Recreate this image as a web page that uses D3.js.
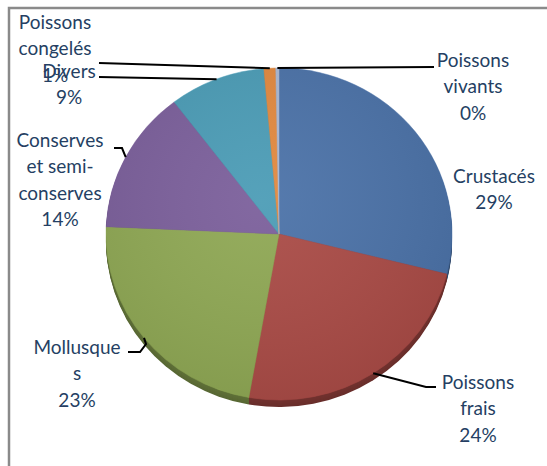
<!DOCTYPE html>
<html>
<head>
<meta charset="utf-8">
<script src="https://cdn.jsdelivr.net/npm/d3@7"></script>
<style>
  html, body { margin: 0; padding: 0; background: #ffffff; }
  svg { display: block; }
  text { font-family: Lato, "Open Sans", sans-serif; }
</style>
</head>
<body>
<script>
// Répartition des exportations par catégorie de produit
const categories = ["Crustacés", "Poissons frais", "Mollusques", "Conserves et semi-conserves", "Divers", "Poissons congelés", "Poissons vivants"];
const values = [29, 24, 23, 14, 9, 1.1, 0.3];
// Label text as broken over lines in the chart
const labelLines = [
  ["Crustacés"],
  ["Poissons", "frais"],
  ["Mollusque", "s"],
  ["Conserves", "et semi-", "conserves"],
  ["Divers"],
  ["Poissons", "congelés"],
  ["Poissons", "vivants"]
];
const colors = ["#4b72a8", "#aa4b46", "#8fa854", "#7b5f9b", "#4b9cb6", "#e2893f", "#a9b8d3"];

// Layout
const W = 547, H = 466;
const cx = 279, cy = 234, R = 173, ry = 166, depth = 7;
const lineH = 26.5, fontSize = 19;
// label anchor (centre x, first-line centre y) and leader path points beyond the slice edge
const labelLayout = [
  { x: 494, y: 176, leader: null },
  { x: 478, y: 382, leader: [[426, 387], [436, 387]] },
  { x: 77,  y: 347, leader: [[146, 344], [140, 352], [128, 352]] },
  { x: 60,  y: 140, leader: [[122, 148], [114, 148]] },
  { x: 69,  y: 71,  leader: [[99, 77]] },
  { x: 55,  y: 22,  leader: [[99, 63]] },
  { x: 473, y: 60,  leader: [[434, 67]] }
];

const svg = d3.select("body").append("svg")
  .attr("width", W).attr("height", H);

// chart frame (top and left edges are visible)
svg.append("path")
  .attr("d", `M9,${H} L9,8 L${W},8`)
  .attr("fill", "none")
  .attr("stroke", "#8a8a8a")
  .attr("stroke-width", 2.5);

const total = d3.sum(values);
const pie = d3.pie().sort(null).value(d => d)(values);
const arc = d3.arc().innerRadius(0).outerRadius(R);

// side of the tilted pie: stacked darker copies below the top face
for (let k = depth; k >= 1; k--) {
  svg.append("g")
    .attr("transform", `translate(${cx},${cy + k}) scale(1,${ry / R})`)
    .selectAll("path")
    .data(pie)
    .join("path")
    .attr("d", arc)
    .attr("fill", (d, i) => d3.color(colors[i]).darker(1.1 + 0.25 * (k / depth)));
}

// top face
const topFace = svg.append("g")
  .attr("transform", `translate(${cx},${cy}) scale(1,${ry / R})`);
topFace.selectAll("path")
  .data(pie)
  .join("path")
  .attr("d", arc)
  .attr("fill", (d, i) => colors[i])
  .attr("stroke", (d, i) => colors[i])
  .attr("stroke-width", 0.5);

// soft lighting over the top face
const defs = svg.append("defs");
const rg = defs.append("radialGradient").attr("id", "shine")
  .attr("cx", "45%").attr("cy", "40%").attr("r", "65%");
rg.append("stop").attr("offset", "0%").attr("stop-color", "#fff").attr("stop-opacity", 0.06);
rg.append("stop").attr("offset", "100%").attr("stop-color", "#000").attr("stop-opacity", 0.08);
svg.append("ellipse")
  .attr("cx", cx).attr("cy", cy).attr("rx", R).attr("ry", ry)
  .attr("fill", "url(#shine)");

function edgePoint(a) {
  return [cx + R * Math.sin(a), cy - ry * Math.cos(a)];
}

// leader lines
pie.forEach((d, i) => {
  const lay = labelLayout[i];
  if (!lay.leader) return;
  const mid = (d.startAngle + d.endAngle) / 2;
  const pts = [edgePoint(mid), ...lay.leader];
  svg.append("path")
    .attr("d", d3.line()(pts))
    .attr("fill", "none")
    .attr("stroke", "#000")
    .attr("stroke-width", 2);
});

// data labels
pie.forEach((d, i) => {
  const lay = labelLayout[i];
  const pct = Math.round(values[i] / total * 100) + "%";
  const lines = [...labelLines[i], pct];
  const t = svg.append("text")
    .attr("text-anchor", "middle")
    .attr("font-size", fontSize)
    .attr("fill", "#253f63");
  lines.forEach((ln, j) => {
    t.append("tspan")
      .attr("x", lay.x)
      .attr("y", lay.y + j * lineH)
      .attr("dy", "0.35em")
      .text(ln);
  });
});
</script>
</body>
</html>
